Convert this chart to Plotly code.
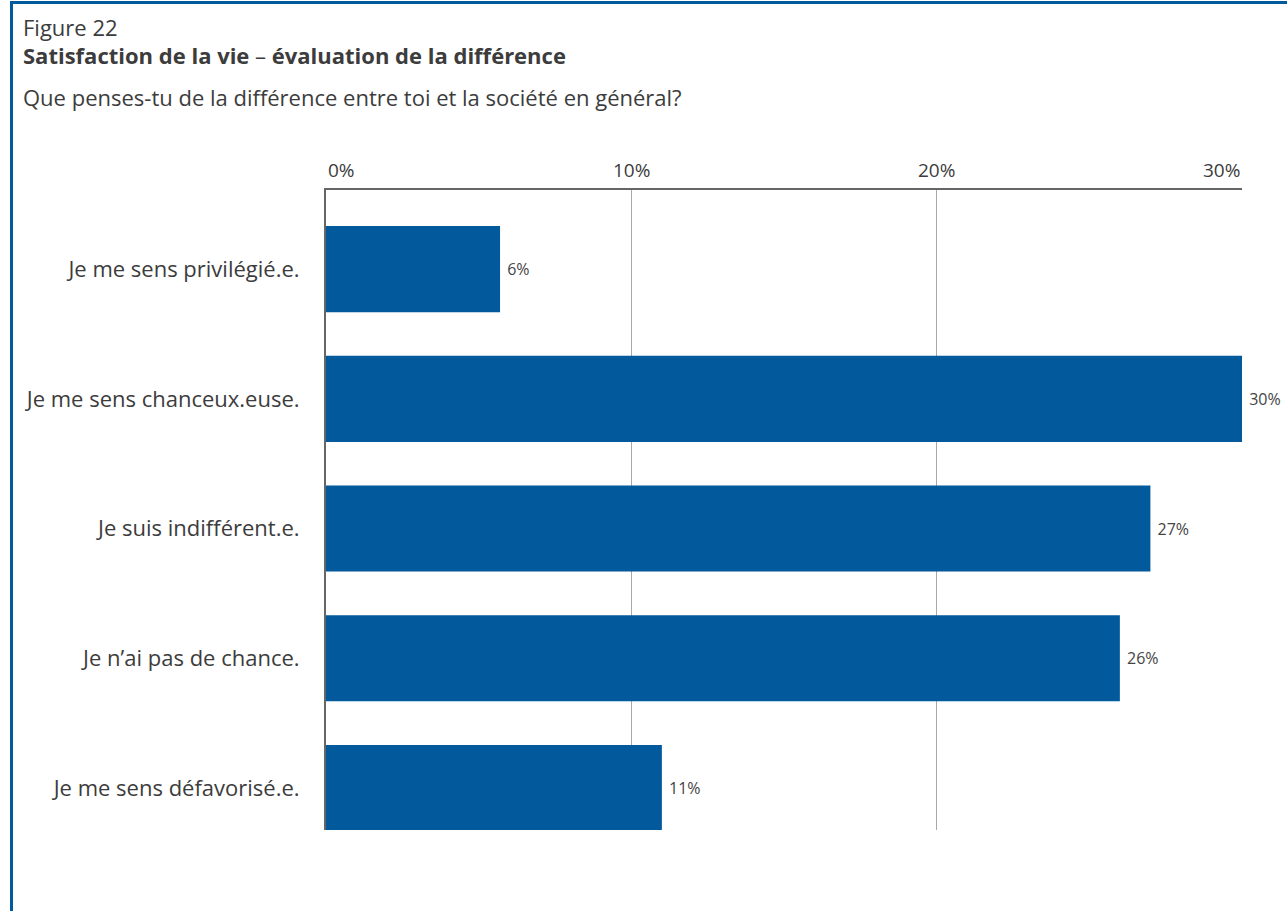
import plotly.graph_objects as go

categories = ["Je me sens privilégié.e.", "Je me sens chanceux.euse.", "Je suis indifférent.e.",
              "Je n’ai pas de chance.", "Je me sens défavorisé.e."]
values = [5.7, 30.0, 27.0, 26.0, 11.0]
value_labels = ["6%", "30%", "27%", "26%", "11%"]
tick_vals = [0, 10, 20, 30]
tick_text = ["0%", "10%", "20%", "30%"]
tick_anchor = ["left", "center", "center", "right"]

FONT = "Open Sans"
BLUE = "#02599c"
TXT = "#3c3c3c"

W, H = 1287, 911
ML, MR, MT, MB = 326, 45, 190, 81

fig = go.Figure()
fig.add_trace(go.Bar(
    x=values, y=categories, orientation="h",
    marker=dict(color=BLUE, line=dict(width=0)),
    text=[" " + t for t in value_labels], textposition="outside",
    textfont=dict(family=FONT, size=16, color="#444444"),
    cliponaxis=False, hoverinfo="skip",
))

fig.update_layout(
    width=W, height=H,
    margin=dict(l=ML, r=MR, t=MT, b=MB),
    paper_bgcolor="white", plot_bgcolor="white",
    showlegend=False, bargap=0.336,
    font=dict(family=FONT, color=TXT),
    xaxis=dict(range=[0, 30], side="top", tickvals=tick_vals, showticklabels=False,
               showgrid=True, gridcolor="#a8a8a8", gridwidth=1, zeroline=False,
               showline=True, linecolor="#666666", linewidth=2, ticks=""),
    yaxis=dict(type="category", categoryarray=categories, range=[4.324, -0.61],
               showgrid=False, zeroline=False, showline=True, linecolor="#666666", linewidth=2,
               ticks="", ticklabelstandoff=20,
               tickfont=dict(family=FONT, size=22, color=TXT)),
)

for v, t, a in zip(tick_vals, tick_text, tick_anchor):
    fig.add_annotation(x=v, y=1, xref="x", yref="paper", text=t, showarrow=False,
                       xanchor=a, yanchor="bottom", yshift=5,
                       font=dict(family=FONT, size=19, color=TXT))


def px_x(px):
    return (px - ML) / (W - ML - MR)


def px_y(py):
    return (H - MB - py) / (H - MT - MB)


titles = [
    ("Figure 22", 27),
    ("<b>Satisfaction de la vie</b> – <b>évaluation de la différence</b>", 55),
    ("Que penses-tu de la différence entre toi et la société en général?", 97),
]
for txt, cy in titles:
    fig.add_annotation(x=px_x(21), y=px_y(cy), xref="paper", yref="paper", text=txt,
                       showarrow=False, xanchor="left", yanchor="middle",
                       font=dict(family=FONT, size=22, color=TXT))

# frame
fig.add_shape(type="line", xref="paper", yref="paper", x0=px_x(11), x1=px_x(1300),
              y0=px_y(2.5), y1=px_y(2.5), line=dict(color=BLUE, width=3))
fig.add_shape(type="line", xref="paper", yref="paper", x0=px_x(11.5), x1=px_x(11.5),
              y0=px_y(1), y1=px_y(920), line=dict(color=BLUE, width=3))

fig.write_html("out.html", config={"displayModeBar": False},
               post_script="document.body.style.margin='0';document.body.style.overflow='hidden';")
